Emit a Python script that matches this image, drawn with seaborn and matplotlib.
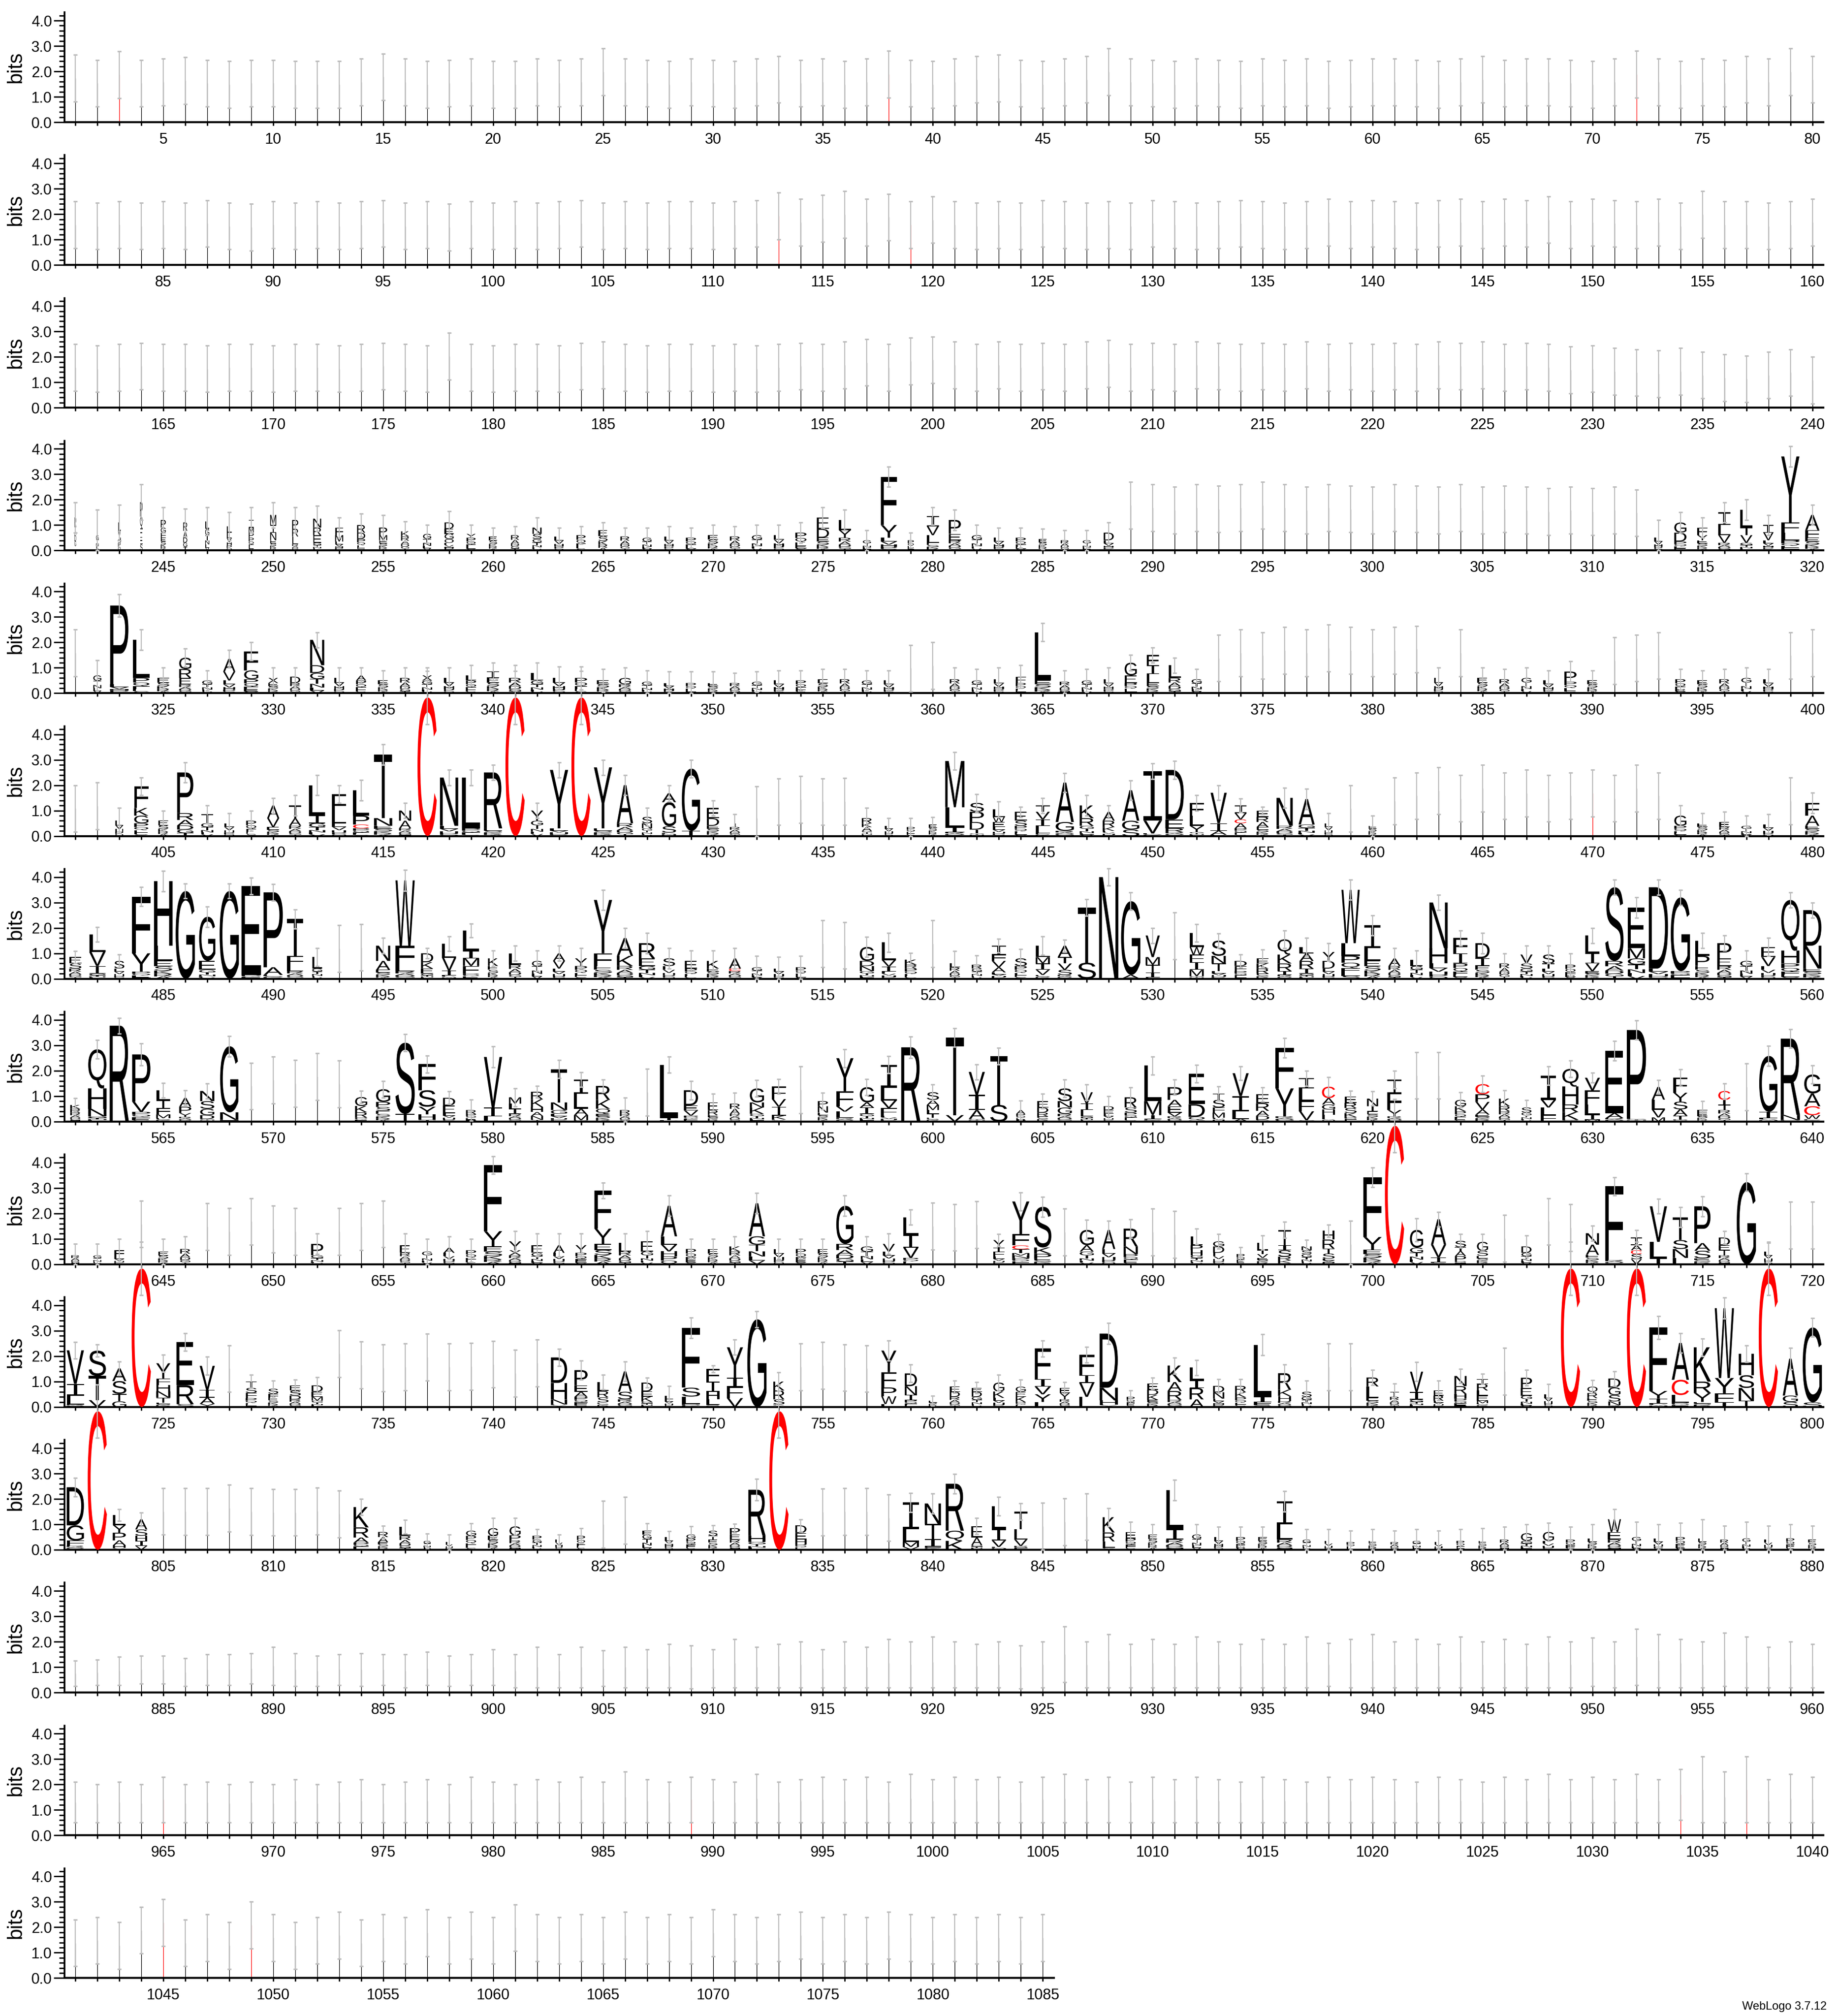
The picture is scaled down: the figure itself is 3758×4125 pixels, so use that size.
import re
import numpy as np
import matplotlib
matplotlib.use("Agg")
import matplotlib.pyplot as plt
import seaborn as sns
from matplotlib.textpath import TextPath
from matplotlib.path import Path
from matplotlib.patches import PathPatch
from matplotlib.collections import PatchCollection
from matplotlib.font_manager import FontProperties
from matplotlib.transforms import Affine2D
from matplotlib.ticker import MultipleLocator

# One token per position.
#   "2.5"         gappy column, error bar top at 2.5 bits (stack is a thin line)
#   "2.1/1.3"     gappy column with error bar top and stack height
#   suffix "r"    thin line drawn red (cysteine in the column)
#   "w|spec|top"  stack: width fraction, letters top->bottom with bits, error bar top
#                 "~" = many tiny unreadable letters

row_001 = ["2.65", "2.45", "2.78r", "2.45", "2.5", "2.55", "2.45", "2.4", "2.45", "2.45",
           "2.4", "2.4", "2.4", "2.5", "2.7", "2.5", "2.4", "2.45", "2.5", "2.4",
           "2.4", "2.5", "2.45", "2.5", "2.9", "2.5", "2.45", "2.4", "2.5", "2.45",
           "2.4", "2.5", "2.6", "2.45", "2.5", "2.4", "2.5", "2.8r", "2.45", "2.4",
           "2.5", "2.6", "2.65", "2.45", "2.4", "2.5", "2.6", "2.9", "2.5", "2.45",
           "2.4", "2.5", "2.45", "2.4", "2.5", "2.45", "2.5", "2.4", "2.45", "2.5",
           "2.5", "2.45", "2.4", "2.5", "2.6", "2.45", "2.5", "2.5", "2.45", "2.4",
           "2.5", "2.8r", "2.5", "2.4", "2.5", "2.45", "2.6", "2.5", "2.9", "2.6"]

row_081 = ["2.5", "2.45", "2.5", "2.45", "2.5", "2.45", "2.55", "2.45", "2.4", "2.5",
           "2.45", "2.5", "2.45", "2.5", "2.55", "2.45", "2.5", "2.4", "2.5", "2.45",
           "2.5", "2.45", "2.5", "2.55", "2.45", "2.5", "2.45", "2.5", "2.5", "2.45",
           "2.5", "2.55", "2.85r", "2.6", "2.75", "2.9", "2.6", "2.8", "2.5r", "2.7",
           "2.5", "2.45", "2.5", "2.45", "2.55", "2.5", "2.45", "2.5", "2.45", "2.55",
           "2.5", "2.45", "2.5", "2.55", "2.5", "2.45", "2.5", "2.6", "2.5", "2.55",
           "2.5", "2.45", "2.55", "2.6", "2.5", "2.6", "2.55", "2.7", "2.5", "2.6",
           "2.55", "2.5", "2.6", "2.45", "2.9", "2.5", "2.5", "2.45", "2.5", "2.6"]

row_161 = ["2.5", "2.45", "2.5", "2.55", "2.5", "2.5", "2.45", "2.5", "2.5", "2.45",
           "2.5", "2.5", "2.45", "2.5", "2.55", "2.5", "2.45", "2.95", "2.5", "2.45",
           "2.5", "2.5", "2.45", "2.55", "2.6", "2.5", "2.45", "2.5", "2.5", "2.45",
           "2.5", "2.45", "2.5", "2.55", "2.5", "2.6", "2.7", "2.5", "2.75", "2.8",
           "2.6", "2.5", "2.6", "2.5", "2.55", "2.5", "2.6", "2.65", "2.5", "2.55",
           "2.5", "2.6", "2.55", "2.5", "2.55", "2.5", "2.6", "2.5", "2.55", "2.5",
           "2.55", "2.5", "2.6", "2.55", "2.6", "2.5", "2.55", "2.5", "2.4", "2.45",
           "2.35", "2.3", "2.25", "2.35", "2.2", "2.1", "2.05", "2.2", "2.3", "2.0"]

row_241 = [".08|~1.3|1.9", ".12|~.6|1.6", ".12|~1.1|1.8", ".12|~1.9|2.6", ".25|P.3G.2F.2~.5|1.7",
           ".2|~1.1|1.65", ".2|L.3~.85|1.7", ".25|L.25~.7|1.5", ".25|I.3M.2P.2~.5|1.7", ".3|M.4I.3N.3~.4|1.9",
           ".3|P.35R.3L.3~.25|1.7", ".4|N.35R.3E.3~.3|1.75", ".4|F.3M.25~.35|1.3", ".4|R.3D.25~.45|1.45", ".4|P.3M.2~.4|1.4",
           ".4|K.2~.55|1.15", ".4|~.65|1.0", ".45|D.25E.2G.2O.15~.3|1.55", ".45|Y.15~.5|1.0", ".4|~.55|.9",
           ".4|~.6|.95", ".45|N.25S.2~.45|1.3", ".45|~.55|.9", ".45|~.6|.95", ".45|~.8|1.1",
           ".45|~.55|.9", ".45|~.5|.9", ".45|~.55|.95", ".5|~.5|.9", ".5|~.6|1.0",
           ".5|~.55|.95", ".5|~.6|1.0", ".5|~.6|1.0", ".55|~.7|1.1", ".6|E.45D.35~.5|1.7",
           ".6|L.4Y.3~.5|1.6", ".4|~.4|.8", ".8|F1.9Y.5~.5|3.3", ".3|~.4|.7", ".6|I.4V.35L.3~.3|1.7",
           ".6|P.55E.25~.4|1.6", ".5|~.6|1.0", ".5|~.5|.9", ".5|~.5|.9", ".4|~.45|.85",
           ".4|~.4|.8", ".4|~.4|.8", ".5|D.3~.4|1.1", "2.7", "2.6",
           "2.5", "2.6", "2.55", "2.6", "2.7", "2.6", "2.5", "2.6", "2.55", "2.5",
           "2.6", "2.55", "2.5", "2.6", "2.5", "2.55", "2.5", "2.45", "2.5", "2.45",
           "2.5", "2.4", ".4|~.5|1.2", ".6|G.4D.35~.35|1.5", ".5|F.3Y.2~.4|1.3",
           ".6|I.5L.4V.3~.3|1.9", ".6|L.7T.3V.3~.3|2.0", ".5|I.3V.3~.4|1.4", ".9|Y2.6F.4L.3~.4|4.1", ".7|A.6F.3~.5|1.8"]

row_321 = ["2.5", ".4|~.7|1.3", ".9|P3.1~.35|3.9", ".8|L1.5~.6|2.5", ".6|~.6|1.0",
           ".6|G.45R.35E.25~.35|1.75", ".5|~.5|.9", ".6|A.5V.35~.5|1.7", ".7|F.75G.35~.55|2.0", ".5|X.2~.4|1.0",
           ".5|D.25~.4|1.0", ".7|N1.0D.3~.8|2.4", ".5|~.6|1.0", ".5|A.2~.5|1.0", ".5|~.5|.9",
           ".5|~.6|1.0", ".5|X.2~.5|1.0", ".5|~.6|1.0", ".5|L.2~.5|1.1", ".6|I.25~.6|1.2",
           ".6|~.6|1.1", ".6|L.3~.5|1.2", ".6|~.6|1.05", ".6|~.6|1.05", ".6|~.5|.95",
           ".6|G.25~.35|1.0", ".5|~.45|.9", ".5|~.4|.85", ".5|~.4|.85", ".5|~.4|.85",
           ".5|~.4|.8", ".5|~.45|.85", ".5|~.5|.9", ".5|~.5|.9", ".5|~.55|.95",
           ".5|~.55|.95", ".5|~.5|.9", ".5|~.5|.9", "1.9", "2.0",
           ".5|~.55|1.0", ".5|~.5|.95", ".5|~.55|1.0", ".5|F.25~.4|1.1", ".8|L1.9~.5|2.75",
           ".5|~.45|.9", ".5|~.5|.95", ".5|~.55|1.0", ".6|G.5E.3~.4|1.5", ".6|F.4I.35L.35~.4|1.8",
           ".6|L.5~.6|1.4", ".5|~.55|.95", "2.3", "2.5", "2.4", "2.6", "2.5", "2.7", "2.6", "2.5",
           "2.6", "2.65", ".45|~.6|1.0", "2.5", ".5|~.6|1.0",
           ".5|~.55|.95", ".5|~.6|1.0", ".5|~.5|.9", ".6|P.4~.45|1.25", ".5|~.5|.9",
           "2.2", "2.3", "2.4", ".5|~.55|.95", ".5|~.5|.9",
           ".5|~.55|.95", ".5|~.6|1.0", ".5|~.55|.95", "2.4", "2.5"]

row_401 = ["2.0", "2.1", ".4|~.6|1.1", ".7|F.85K.3G.3~.5|2.3", ".5|~.6|1.0",
           ".8|P1.6~.9|2.9", ".6|T.35~.5|1.2", ".5|~.5|.9", ".5|~.6|1.0", ".6|A.5V.35~.35|1.5",
           ".6|T.5A.3~.4|1.6", ".8|L1.2I.3~.5|2.4", ".7|F.8L.35~.5|2.0", ".8|L1.0P.35C.15~.3|2.2", ".9|T2.5N.3~.4|3.6",
           ".6|N.4A.3~.3|1.3", ".95|C5.45|6.5", ".9|N1.9~.4|2.6", ".9|L2.0~.3|2.6", ".9|R2.2~.3|2.8",
           ".95|C5.45|6.5", ".6|Y.4~.6|1.3", ".9|Y2.3~.3|2.9", ".95|C5.45|6.5", ".9|Y2.4~.3|3.0",
           ".8|A1.5~.5|2.4", ".5|S.25N.2~.3|1.1", ".7|A.35G.95S.25~.13|2.0", ".9|G2.45T.2|3.0", ".6|E.4D.3~.4|1.4",
           ".5|T.15~.35|.85", "1.95/.7", "2.27", "2.35", "2.27",
           "2.28", ".5|R.2K.15A.15~.2|1.1", ".4|~.4|.7", ".4|~.35|.7", ".4|~.45|.75",
           ".95|M1.82L.8I.18~.15|3.3", ".7|S.35P.4D.3T.15~.1|1.65", ".6|L.3W.2E.2~.35|1.35", ".6|E.35S.2~.4|1.15", ".7|T.25V.3I.25L.3~.1|1.5",
           ".9|A1.55G.35~.2|2.47", ".7|K.5R.3~.4|1.6", ".6|A.35R.25K.15~.2|1.2", ".85|A1.2G.35S.25|2.18", ".9|I1.95V.5~.1|2.85",
           ".9|D1.95E.35R.15~.15|2.95", ".7|F.5L.4Y.25~.15|1.6", ".8|V1.2I.3A.15~.05|1.99", ".6|I.3V.25C.15A.2~.3|1.47", ".6|E.25R.2A.2~.35|1.15",
           ".8|N1.1~.4|1.9", ".8|A1.0~.45|1.85", ".4|~.5|.9", "2.0", ".4|~.4|.8",
           "2.3", "2.5", "2.7", "2.4", "2.8", "2.5", "2.6", "2.4", "2.5", "2.6r",
           "2.4", "2.8", "2.5", ".6|G.4~.4|1.2", ".5|~.5|.9",
           ".5|E.2~.35|.95", ".5|~.4|.8", ".5|~.45|.85", "2.3", ".7|F.5A.4~.4|1.7"]

row_481 = [".6|E.25S.2~.4|1.09", ".8|L.7V.55I.3~.2|2.04", ".5|S.3~.4|.95", ".9|F2.23Y.72~.28|3.6", ".9|H2.54L.6~.7|4.24",
           ".95|G3.45|3.74", ".8|G1.74E.35~.35|2.84", ".95|G3.45|3.74", ".95|E3.5~.15|3.97", ".95|P2.95A.3~.15|3.72",
           ".8|T1.45F.4L.2~.3|2.73", ".5|L.45~.4|1.2", "2.1", "2.15", ".7|N.6A.35~.35|1.6",
           ".95|W2.57F.8L.2~.3|4.29", ".6|D.35K.25E.2~.2|1.2", ".7|L.55V.5I.2~.12|1.66", ".8|L.8I.3M.3F.3~.2|2.17", ".5|K.3~.5|1.1",
           ".6|L.45~.55|1.3", ".5|~.7|1.1", ".6|A.3V.3~.4|1.3", ".6|Y.3~.5|1.2", ".9|Y2.1F.5~.5|3.5",
           ".8|A.7K.4~.5|2.0", ".8|R.6E.3~.5|1.8", ".6|S.3~.5|1.2", ".6|E.3~.4|1.1", ".6|K.3~.4|1.1",
           ".6|A.4C.1~.3|1.2", ".5|~.45|.9", ".5|~.4|.85", ".5|~.45|.9", "2.3",
           "2.23", ".7|G.55D.2N.2~.3|1.64", ".7|L.7V.25I.2~.28|1.81", ".6|K.2R.15~.4|1.01", "2.3",
           ".5|L.15~.45|1.09", ".5|R.15~.4|.92", ".7|I.35F.25V.25A.2~.25|1.57", ".6|S.3~.5|1.16", ".7|L.45M.25I.25V.2~.15|1.66",
           ".7|A.45T.25V.25S.2~.15|1.54", ".9|T2.17S.63|3.12", ".95|N4.0|4.34", ".95|G2.9A.15|3.4", ".7|V.85M.3T.3I.2~.05|2.0",
           "2.6", ".7|L.55W.3F.3I.3M.25~.1|2.14", ".7|S.6N.3T.3~.3|1.78", ".6|D.2F.2~.3|.96", ".6|E.2K.2R.2~.2|1.14",
           ".7|Q.6K.35R.3I.15~.15|1.9", ".7|L.25A.3R.3I.2~.2|1.6", ".6|Y.35D.3~.4|1.4", ".9|W2.1L.5~.9|3.9", ".8|I.9L.5~.7|2.5",
           ".6|A.3~.5|1.2", ".6|L.25~.5|1.1", ".9|N1.8H.6~.6|3.3", ".7|F.6I.4~.6|1.9", ".7|D.6I.3~.5|1.8",
           ".5|~.6|1.0", ".6|V.35S.2~.4|1.3", ".6|S.35T.2~.4|1.3", ".5|~.55|1.0", ".7|L.7I.4V.3~.3|2.0",
           ".9|S2.9~.7|3.9", ".85|E1.6M.4~.8|3.2", ".95|D3.2~.4|3.9", ".95|G2.9~.3|3.5", ".7|L.6P.4~.5|1.8",
           ".7|P.6E.3~.5|1.7", ".6|~.7|1.1", ".7|E.4V.35~.5|1.6", ".9|Q2.0H.5~.6|3.4", ".9|D1.4N.9~.4|3.0"]

row_561 = [".5|K.15R.15~.35|.91", ".9|Q1.54H.8N.3~.2|3.2", ".95|R3.77|4.08", ".9|P1.86V.4~.38|3.07", ".7|L.4T.3F.25M.15~.13|1.52",
           ".6|A.35P.25Y.15~.18|1.22", ".7|N.4S.3G.25D.15~.1|1.5", ".9|G2.6N.3~.06|3.36", "2.31", "2.55",
           "2.42", "2.68", "2.39", ".6|G.35K.25R.2~.16|1.2", ".7|G.5P.2S.15~.42|1.6",
           ".95|S2.8T.3|3.43", ".85|F1.03S.65Y.3H.2~.08|2.6", ".6|D.3E.3~.33|1.18", ".5|R.15~.3|.86", ".9|V1.99I.35L.2|2.95",
           ".6|M.25L.2I.2~.3|1.3", ".6|R.3K.3H.2A.15N.15~.07|1.4", ".8|T1.31N.3G.15~.3|2.42", ".7|I.55L.6A.25M.2~.05|1.94", ".7|R.55K.35Q.2~.3|1.65",
           ".5|R.15~.3|.93", "2.07", ".9|L2.1I.08~.05|2.55", ".7|D.6E.2V.2~.23|1.6", ".5|E.3R.2~.25|1.09",
           ".5|R.2A.2~.3|1.12", ".7|G.55N.2K.25~.3|1.62", ".7|F.5V.3I.35K.15~.08|1.67", "2.17", ".5|P.2N.25~.35|1.12",
           ".85|Y1.3F.6V.2L.25~.14|2.85", ".7|G.6A.2I.25~.3|1.67", ".8|I.9L.5V.3F.3~.23|2.57", ".95|R2.92|3.35", ".6|S.3A.2M.2L.15T.15~.15|1.45",
           ".9|T3.05V.25|3.67", ".8|V.9I.6A.35~.1|2.25", ".85|T1.92S.65|2.9", ".45|A.15~.3|.83", ".55|E.25D.2R.15~.2|1.09",
           ".7|S.5N.25G.25~.3|1.64", ".6|V.45I.25L.25~.2|1.45", ".5|D.15E.15~.3|.99", ".6|R.4S.2~.35|1.35", ".85|L1.4M.55I.15~.1|2.55",
           ".7|P.5A.25E.25V.15~.2|1.64", ".8|E1.2D.5Q.12~.06|2.22", ".6|T.25S.3F.2M.2~.15|1.38", ".8|V.9I.6L.3A.1|2.17", ".65|E.35R.3A.2D.15~.07|1.35",
           ".9|F1.6Y1.1~.2|3.28", ".75|I.4L.5F.4V.35~.05|2.0", ".65|C.45A.25G.2H.2L.15~.12|1.74", ".6|E.25R.2S.2K.15~.18|1.2", ".55|N.3I.2~.4|1.18",
           ".7|T.5F.7Y.25~.2|2.0", "2.73", "2.73", ".55|G.25K.2~.4|1.14", ".7|C.4P.3V.3A.2~.27|1.8",
           ".55|K.3R.2~.4|1.23", ".5|S.2~.35|.85", ".75|I.95V.3L.3F.25|2.17", ".8|Q.7H.7R.3K.3~.07|2.39", ".75|V.5F.55L.4I.2M.07|1.91",
           ".9|E2.45A.2~.13|3.16", ".95|P3.5~.1|3.97", ".65|A.5L.4V.3M.16|1.62", ".7|F.6Y.35S.3A.25T.15~.08|2.06", ".5|F.15~.3|.8",
           ".6|C.35I.2T.2~.45|1.5", "2.28", ".9|G2.2I.25~.13|2.98", ".95|R3.0N.2~.06|3.63", ".8|G.75A.5C.35W.15~.1|2.2"]

row_641 = [".4|~.35|.8", ".4|~.35|.8", ".5|F.25~.3|1.0", "2.5", ".5|~.5|1.0",
           ".5|~.6|1.1", "2.4", "2.2", "2.6", "2.3",
           "2.2", ".6|P.45~.35|1.2", "2.2", "2.4", "2.5",
           ".5|E.3~.45|1.2", ".5|~.5|1.0", ".55|A.2~.45|1.1", ".5|~.55|1.0", ".9|F2.6Y.6~.7|4.25",
           ".6|Y.35X.2~.35|1.3", ".55|E.3~.45|1.2", ".55|A.3~.45|1.2", ".55|Y.3~.45|1.2", ".85|F1.5Y.6~.8|3.2",
           ".6|L.35~.5|1.2", ".6|E.4~.5|1.3", ".8|A1.2~1.1|2.7", ".5|~.6|1.0", ".5|~.6|1.0",
           ".55|K.2~.5|1.1", ".8|A1.3~1.1|2.8", ".5|~.6|1.0", ".5|~.6|1.0", ".5|~.6|1.0",
           ".85|G1.5~.8|2.7", ".6|~.7|1.1", ".6|V.3~.5|1.2", ".75|L.7I.5V.4~.25|2.15", "2.42",
           "2.37", "2.48", ".55|Y.3T.15F.2~.3|1.19", ".85|Y1.28F.45C.15T.15M.1N.1~.24|2.83", ".85|S1.6K.25P.2~.21|2.65",
           "2.19", ".7|G.6A.25~.5|1.75", ".65|A.75~.6|1.7", ".7|R.7N.3~.4|1.77", "2.19",
           "2.09", ".6|L.35P.2H.2~.35|1.41", ".55|G.2D.25~.45|1.19", ".4|~.4|.66", ".55|L.3T.15V.15~.25|1.13",
           ".65|T.6I.2S.25R.15K.1~.05|1.67", ".5|N.15S.15~.4|.96", ".6|H.35R.35T.2S.2~.22|1.56", "1.7", ".9|F2.35Y.5~.57|3.81",
           ".95|C5.45|6.5", ".65|G.7~.65|1.8", ".75|A1.0V.5I.2~.07|2.06", ".55|S.25T.15A.2P.2~.12|1.19", ".55|G.35S.2~.33|1.19",
           "1.93", ".5|D.25~.45|1.13", "2.6", "2.36", ".65|N.45A.4~.37|1.52",
           ".9|F2.9~.17|3.43", ".55|I.3A.2C.15S.2V.2|1.34", ".85|V1.4L.65I.23|2.57", ".75|T.9S.35N.35L.25|2.25", ".8|P1.45A.3S.3~.23|2.67",
           ".55|D.3E.2T.2~.35|1.3", ".95|G3.23|3.57", ".4|~.5|.85", "2.46", "2.46"]

row_721 = [".85|V1.32I.46L.35~.1|2.55", ".85|S1.0T.95V.27|2.47", ".7|A.5S.5T.3G.22|1.79", ".95|C5.45|6.5", ".7|Y.6F.25H.25N.25T.2~.17|2.05",
           ".85|E1.7R.75S.11|2.91", ".75|V.95I.3A.25Y.12|1.97", "2.43", ".55|T.25S.2F.2~.35|1.26", ".5|S.2F.15~.37|1.03",
           ".55|E.2S.2D.15~.3|1.08", ".55|D.25E.2M.15~.25|1.18", "3.01", "2.57", "2.46",
           "2.5", "2.88", "2.5", "2.52", "2.6",
           "2.25", "2.65", ".8|D1.0H.65N.2~.1|2.28", ".65|P.6E.25A.2~.4|1.83", ".55|L.35R.25S.2~.18|1.26",
           ".7|A.8S.3~.3|1.79", ".55|D.35E.2K.2~.21|1.16", ".4|L.15~.3|.83", ".9|F2.35S.35L.3~.11|3.51", ".65|F.5I.4H.3L.2~.1|1.64",
           ".8|Y1.2I.35F.45V.35|2.65", ".95|G3.45|3.77", ".55|K.35R.35S.2~.1|1.36", "2.5", "2.55",
           "2.47", "2.43", ".75|Y.85F.6P.35W.3L.12|2.62", ".6|D.5N.35I.2~.27|1.67", ".4|~.25|.44",
           ".5|E.2D.2~.4|1.04", ".5|E.15D.2~.4|.97", ".55|G.35K.25~.36|1.26", ".5|G.2E.2K.2~.2|1.08", ".8|F1.2I.3V.3Y.3L.2|2.62",
           ".5|E.2Y.25~.3|.97", ".75|F.8I.3V.55L.4|2.36", ".9|D2.13N.5H.16~.1|3.3", ".4|~.4|.65", ".55|E.25D.2K.2~.28|1.15",
           ".7|K.65A.35R.35~.28|1.95", ".7|L.5I.3R.45A.3|1.85", ".55|D.25N.25~.33|1.1", ".55|R.25K.2~.38|1.1", ".85|L2.05I.2F.1~.1|2.87",
           ".65|R.65K.25H.2~.23|1.68", ".5|S.2~.4|1.03", "2.5", "2.5", ".6|R.35L.45~.36|1.46",
           ".45|T.2~.4|.93", ".65|V.8I.3~.29|1.77", ".5|E.2R.2~.25|1.04", ".6|N.4R.3H.2~.32|1.5", ".55|I.2R.25L.2E.2M.1~.15|1.3",
           "2.32", ".55|P.4E.3~.45|1.46", ".4|~.5|.9", ".95|C5.45|6.5", ".5|Q.25R.2~.35|1.06",
           ".6|D.35G.3S.25N.15~.07|1.41", ".95|C5.45|6.5", ".9|F2.5Y.3I.2~.13|3.58", ".85|A1.45C.6L.3~.17|2.9", ".85|K1.35R.45Y.35~.2|2.7",
           ".95|W2.75Y.6F.35T.19|4.3", ".75|H.85S.5N.5T.25|2.43", ".95|C5.45|6.5", ".75|A1.45G.25S.2|2.32", ".95|G2.95S.18|3.49"]

row_801 = [".85|D1.5G.6F.2~.16|2.82", ".95|C5.45|6.5", ".65|L.4Y.3P.3A.2H.1~.07|1.6", ".6|A.4S.25H.2I.2V.15|1.47", "2.43",
           "2.42", "2.42", "2.56", "2.42", "2.39",
           "2.39", "2.44", "2.32", ".75|K.8R.4A.2~.28|2.0", ".5|R.2A.2~.3|.95",
           ".55|L.35~.55|1.17", ".35|~.35|.64", ".35|~.3|.6", ".5|G.2~.55|1.04", ".5|G.3~.55|1.25",
           ".55|G.35P.2~.37|1.25", ".45|P.15~.4|.8", ".35|~.4|.6", ".4|~.55|.85", "1.92",
           "2.08", ".45|F.15~.6|1.04", ".4|~.5|.74", ".45|G.15~.45|.92", ".45|S.2T.15~.4|.96",
           ".5|P.25E.2~.4|1.02", ".85|R1.8H.25~.31|2.78", ".95|C5.45|6.5", ".55|D.3E.25H.2~.21|1.2", "2.4",
           "2.42", "2.42", "2.18", ".8|I1.05L.5M.2V.1~.01|2.23", ".8|N.8T.6I.3~.12|2.22",
           ".9|R1.85Q.4K.35|2.98", ".55|E.45A.3~.18|1.25", ".7|L.9I.45V.25~.11|2.08", ".65|T.7L.4V.25~.15|1.82", "1.84",
           "2.02", "2.22", ".6|K.6R.35L.25~.08|1.63", ".5|E.25~.45|1.1", ".45|~.6|1.0",
           ".85|L1.55I.4~.4|2.75", ".45|~.6|1.0", ".45|~.5|.9", ".45|~.5|.9", ".45|~.5|.9",
           ".75|I.9L.6~.4|2.3", ".4|~.4|.8", ".4|~.35|.8", ".4|~.3|.75", ".4|~.35|.8",
           ".4|~.3|.75", ".4|~.35|.8", ".4|~.3|.75", ".4|~.35|.8", ".4|~.35|.85",
           ".45|~.4|.9", ".55|G.3~.35|1.0", ".55|G.35~.35|1.05", ".45|~.4|.9", ".45|~.45|1.0",
           ".65|W.5E.3~.4|1.6", ".45|~.5|1.1", ".45|~.45|1.0", ".45|~.5|1.05", ".4|~.45|1.2",
           ".4|~.4|.95", ".4|~.45|1.1", ".4|~.4|.95", ".4|~.45|1.0", ".4|~.4|.95"]

row_881 = ["1.25/.75", "1.3/.8", "1.4/.85", "1.45/.9", "1.45/.9", "1.35/.8", "1.5/.9", "1.5/.9", "1.55/.95", "1.8/1.05",
           "1.55/.9", "1.45/.85", "1.5/.9", "1.55/.9", "1.5/.9", "1.5/.85", "1.6/.95", "1.45/.85", "1.5/.9", "1.7/1.0",
           "1.5/.85", "1.8/1.0", "1.5/.85", "1.8/1.0", "1.65/.95", "1.8/1.0", "1.7/.95", "1.9/1.05", "1.85/1.0", "1.7/.95",
           "2.1/1.15", "1.8/1.0", "1.9/1.05", "2.0/1.1", "1.7/.95", "2.0/1.1", "1.8/1.0", "2.1/1.15", "2.0/1.1", "2.2/1.2",
           "2.0/1.1", "1.9/1.05", "2.0/1.1", "1.85/1.0", "2.0/1.1", "2.6/1.5", "2.0/1.1", "2.3/1.25", "1.9/1.05", "2.1/1.15",
           "1.9/1.05", "2.2/1.2", "2.0/1.1", "1.9/1.05", "2.1/1.15", "1.9/1.05", "2.2/1.2", "1.95/1.1", "2.1/1.15", "2.3/1.25",
           "2.0/1.1", "2.1/1.15", "1.9/1.05", "2.2/1.2", "2.0/1.1", "2.1/1.15", "1.9/1.05", "2.2/1.2", "2.0/1.1", "2.15/1.2",
           "2.0/1.1", "2.5/1.4", "2.3/1.25", "2.1/1.15", "2.0/1.1", "2.35/1.3", "2.2/1.2", "1.8/1.0", "2.0/1.1", "1.9/1.05"]

row_961 = ["2.1/1.3", "2.0/1.25", "2.1/1.3", "2.0/1.25", "2.3/1.4r", "2.0/1.25", "2.1/1.3", "2.0/1.25", "2.1/1.3", "2.0/1.25",
           "2.2/1.35", "2.0/1.25", "2.1/1.3", "2.2/1.35", "2.0/1.25", "2.1/1.3", "2.2/1.35", "2.0/1.25", "2.3/1.4", "2.1/1.3",
           "2.0/1.25", "2.2/1.35", "2.1/1.3", "2.3/1.4", "2.1/1.3", "2.5/1.5", "2.2/1.35", "2.1/1.3", "2.3/1.4r", "2.2/1.35",
           "2.1/1.3", "2.4/1.45", "2.1/1.3", "2.2/1.35", "2.3/1.4", "2.2/1.35", "2.3/1.4", "2.1/1.3", "2.4/1.45", "2.2/1.35",
           "2.3/1.4", "2.2/1.35", "2.3/1.4", "2.1/1.3", "2.3/1.4", "2.4/1.45", "2.2/1.35", "2.3/1.4", "2.1/1.3", "2.3/1.4",
           "2.2/1.35", "2.3/1.4", "2.2/1.35", "2.1/1.3", "2.3/1.4", "2.2/1.35", "2.1/1.3", "2.3/1.4", "2.2/1.35", "2.3/1.4",
           "2.2/1.35", "2.1/1.3", "2.3/1.4", "2.2/1.35", "2.1/1.3", "2.3/1.4", "2.2/1.35", "2.4/1.45", "2.2/1.35", "2.3/1.4",
           "2.2/1.35", "2.4/1.45", "2.2/1.35", "2.6/1.6r", "3.1/1.8", "2.5/1.5", "3.1/1.8r", "2.2/1.35", "2.4/1.45", "2.3/1.4"]

row_1041 = ["2.3", "2.4", "2.2", "2.8", "3.1r", "2.3", "2.5", "2.2", "3.0r", "2.5",
            "2.2", "2.4", "2.6", "2.3", "2.5", "2.4", "2.7", "2.4", "2.6", "2.4",
            "2.9", "2.5", "2.4", "2.5", "2.4", "2.6", "2.4", "2.5", "2.4", "2.7",
            "2.5", "2.4", "2.5", "2.6", "2.4", "2.5", "2.4", "2.6", "2.5", "2.4",
            "2.5", "2.4", "2.5", "2.4", "2.5"]

rows = [(1, row_001), (81, row_081), (161, row_161), (241, row_241), (321, row_321),
        (401, row_401), (481, row_481), (561, row_561), (641, row_641), (721, row_721),
        (801, row_801), (881, row_881), (961, row_961), (1041, row_1041)]

# ---- layout (pixels of the 3758 x 4125 output) ----
FIG_W, FIG_H = 3758, 4125
LEFT = 131.6
PX_POS = 44.98
BASE0 = 250.0
ROW_STEP = 292.1
PX_BIT = 51.98
YMAX = np.log2(20)
ERR_GRAY = "#bdbdbd"

sns.set_theme(style="ticks", rc={"axes.edgecolor": "black", "xtick.color": "black",
                                 "ytick.color": "black", "text.color": "black",
                                 "axes.labelcolor": "black"})
plt.rcParams["font.family"] = ["Liberation Sans", "DejaVu Sans"]

glyph_fp = FontProperties(family=["Liberation Sans", "DejaVu Sans"])
_glyphs = {}

# the logo font draws "I" as an I-beam, a plain bar would turn into a black block
_ibeam = Path([(0, 0), (1, 0), (1, .09), (.6, .09), (.6, .91), (1, .91), (1, 1),
               (0, 1), (0, .91), (.4, .91), (.4, .09), (0, .09), (0, 0)],
              [Path.MOVETO] + [Path.LINETO] * 11 + [Path.CLOSEPOLY])


def glyph(ch):
    if ch not in _glyphs:
        if ch == "I":
            _glyphs[ch] = _ibeam
        else:
            tp = TextPath((0, 0), ch, size=1, prop=glyph_fp)
            ext = tp.get_extents()
            tr = Affine2D().translate(-ext.x0, -ext.y0).scale(1.0 / ext.width, 1.0 / ext.height)
            _glyphs[ch] = tr.transform_path(tp)
    return _glyphs[ch]


tok_re = re.compile(r"([A-Z~])(\d*\.?\d+)")
FILL_POOL = "ESKRADGTNLVHPQF"
FILL_W = [0.3, 0.24, 0.18, 0.15, 0.13]


def parse(tok):
    if "|" in tok:
        w, spec, top = tok.split("|")
        letters = [(m.group(1), float(m.group(2))) for m in tok_re.finditer(spec)]
        h = sum(v for _, v in letters)
        return {"kind": "stack", "w": float(w), "letters": letters, "h": h, "top": float(top)}
    red = tok.endswith("r")
    tok = tok.rstrip("r")
    if "/" in tok:
        top, h = (float(v) for v in tok.split("/"))
    else:
        top = float(tok)
        h = top - 0.92
    return {"kind": "thin", "h": h, "top": top, "red": red}


fig = plt.figure(figsize=(FIG_W / 100, FIG_H / 100), dpi=100)

for k, (start, toks) in enumerate(rows):
    expected = 80 if start < 1041 else 45
    if len(toks) != expected:
        raise ValueError(f"row {start}: {len(toks)} tokens")
    n = len(toks)
    end = start + n - 1
    ax = fig.add_axes([LEFT / FIG_W, 1 - (BASE0 + ROW_STEP * k) / FIG_H,
                       n * PX_POS / FIG_W, YMAX * PX_BIT / FIG_H])
    patches = []
    thin_x, thin_h, thin_c = [], [], []
    ex, eh, elo, ehi = [], [], [], []
    for i, tok in enumerate(toks):
        pos = start + i
        col = parse(tok)
        h = col["h"]
        e = max(col["top"] - h, 0.03)
        ex.append(pos)
        eh.append(h)
        elo.append(min(e, h))
        ehi.append(e)
        if col["kind"] == "thin":
            thin_x.append(pos)
            thin_h.append(h)
            thin_c.append("red" if col["red"] else "black")
            continue
        bw = col["w"] * 0.92
        x0 = pos - bw / 2
        y = 0.0
        for ch, v in reversed(col["letters"]):
            if ch == "~":
                pieces = [(FILL_POOL[(pos * 3 + j) % len(FILL_POOL)], v * f) for j, f in enumerate(FILL_W)]
            else:
                pieces = [(ch, v)]
            for c2, v2 in reversed(pieces):
                if v2 > 0.004:
                    p = Affine2D().scale(bw, v2).translate(x0, y).transform_path(glyph(c2))
                    patches.append(PathPatch(p, facecolor="red" if c2 == "C" else "black",
                                             edgecolor="none", lw=0))
                y += v2
    if thin_x:
        ax.vlines(thin_x, 0, thin_h, colors=thin_c, lw=0.9, zorder=2)
    pc = PatchCollection(patches, match_original=True, zorder=3)
    pc.set_clip_on(False)
    ax.add_collection(pc)
    eb = ax.errorbar(ex, eh, yerr=[elo, ehi], fmt="none", ecolor=ERR_GRAY,
                     elinewidth=1.6, capsize=3, capthick=2.2, zorder=5)
    for art in eb.get_children():
        art.set_clip_on(False)

    ax.set_xlim(start - 0.5, end + 0.5)
    ax.set_ylim(0, YMAX)
    ax.set_xticks(np.arange(start, end + 1))
    ax.set_xticklabels([str(p) if p % 5 == 0 else "" for p in range(start, end + 1)])
    ax.set_yticks([0, 1, 2, 3, 4])
    ax.set_yticklabels(["0.0", "1.0", "2.0", "3.0", "4.0"])
    ax.yaxis.set_minor_locator(MultipleLocator(0.2))
    ax.tick_params(axis="x", which="major", length=5, width=2, labelsize=22, pad=10)
    ax.tick_params(axis="y", which="major", length=16, width=2, labelsize=22, pad=2)
    ax.tick_params(axis="y", which="minor", length=8, width=2)
    ax.set_ylabel("bits", fontsize=30, labelpad=8)
    sns.despine(ax=ax)
    ax.spines["left"].set_linewidth(2.6)
    ax.spines["bottom"].set_linewidth(3)
    ax.patch.set_alpha(0)

fig.text(0.9944, 0.0046, "WebLogo 3.7.12", ha="right", va="center", fontsize=17)

fig.savefig("out.png", dpi=100)
